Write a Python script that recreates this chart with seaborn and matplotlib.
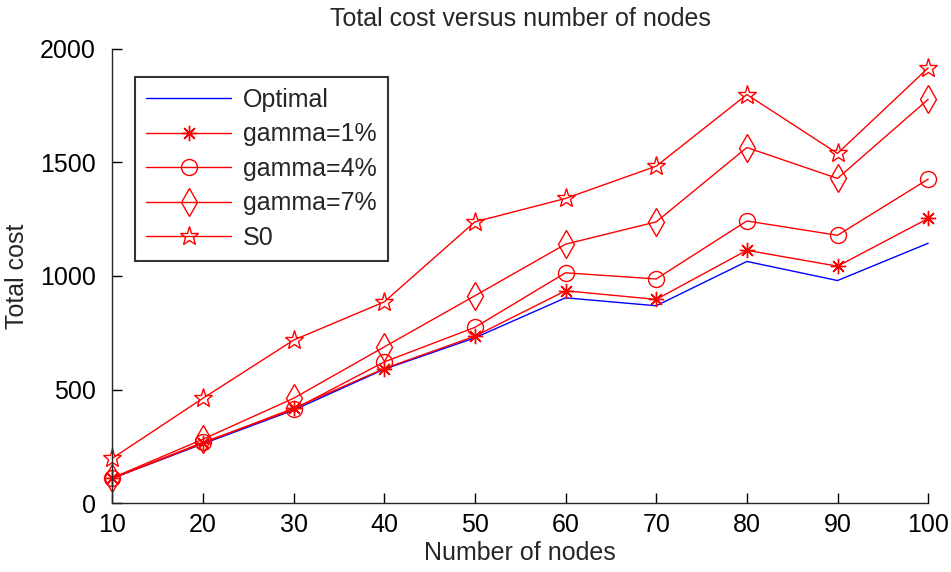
import pandas as pd
import matplotlib
matplotlib.use("Agg")
import matplotlib.pyplot as plt
import seaborn as sns

# values
nodes = [10, 20, 30, 40, 50, 60, 70, 80, 90, 100]
optimal = [110, 262, 410, 590, 728, 904, 869, 1064, 980, 1144]
gamma1 = [110, 265, 418, 593, 735, 935, 897, 1113, 1043, 1253]
gamma4 = [110, 268, 413, 622, 774, 1014, 987, 1242, 1179, 1426]
gamma7 = [112, 282, 462, 688, 913, 1140, 1238, 1565, 1429, 1777]
s0 = [198, 462, 718, 886, 1238, 1341, 1483, 1798, 1539, 1915]

series = ["Optimal", "gamma=1%", "gamma=4%", "gamma=7%", "S0"]
values = [optimal, gamma1, gamma4, gamma7, s0]

sns.set_style("ticks")
plt.rcParams['font.family'] = ['Liberation Sans', 'DejaVu Sans']

rows = []
for name, vals in zip(series, values):
    for n, v in zip(nodes, vals):
        rows.append({"nodes": n, "cost": v, "series": name})
df = pd.DataFrame(rows)

fig = plt.figure(figsize=(9.51, 5.72), dpi=100)
ax = fig.add_axes([0.118, 0.12, 0.858, 0.795])

styles = {
    "Optimal": dict(color="blue", marker=None),
    "gamma=1%": dict(color="red", marker=(8, 2, 0), ms=11),
    "gamma=4%": dict(color="red", marker="o", ms=11.5),
    "gamma=7%": dict(color="red", marker="d", ms=14),
    "S0": dict(color="red", marker="*", ms=14),
}

for name in series:
    st = styles[name]
    sub = df[df["series"] == name]
    kw = dict(color=st["color"], lw=1.0, label=name, clip_on=False)
    if st["marker"] is not None:
        kw.update(marker=st["marker"], markersize=st["ms"], markerfacecolor="none",
                  markeredgecolor=st["color"], markeredgewidth=1.0)
    sns.lineplot(data=sub, x="nodes", y="cost", ax=ax, **kw)

ax.set_xlim(10, 100)
ax.set_ylim(0, 2000)
ax.set_xticks(nodes)
ax.set_yticks([0, 500, 1000, 1500, 2000])
ax.tick_params(direction="in", labelsize=18, length=7, width=1, colors="black")
ax.tick_params(axis="x", pad=7)
ax.tick_params(axis="y", pad=12)
sns.despine(ax=ax)
for s in ["left", "bottom"]:
    ax.spines[s].set_linewidth(1.0)

ax.set_xlabel("Number of nodes", fontsize=18, labelpad=3)
ax.set_ylabel("Total cost", fontsize=18, labelpad=8)
ax.set_title("Total cost versus number of nodes", fontsize=18, pad=16)

leg = ax.legend(loc="upper left", bbox_to_anchor=(0.028, 0.9385), borderaxespad=0,
                fontsize=18, frameon=True, fancybox=False, edgecolor="black",
                handlelength=3.4, labelspacing=0.42, borderpad=0.45, handletextpad=0.45)
leg.get_frame().set_linewidth(1.5)

fig.savefig("out.png", dpi=100)
